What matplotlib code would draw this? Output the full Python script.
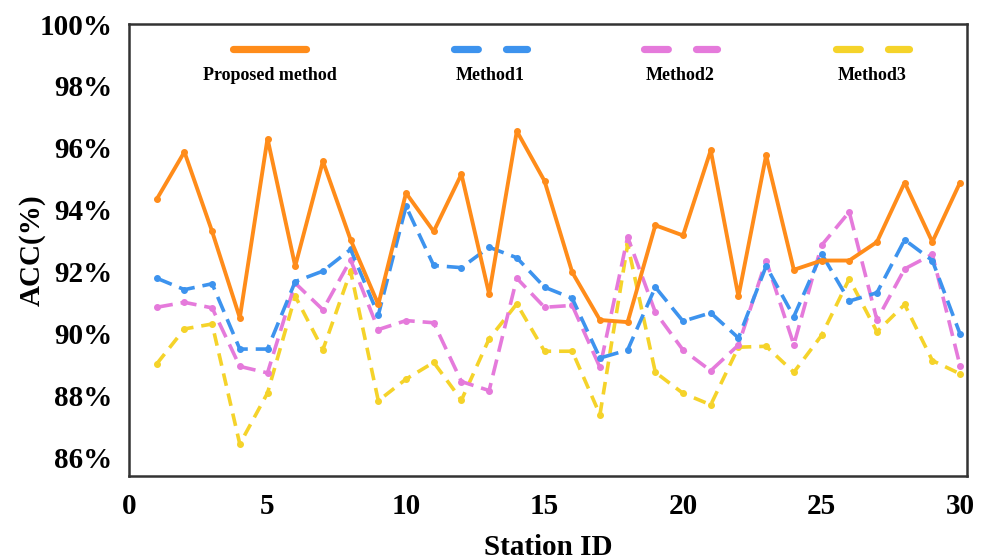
import numpy as np
import matplotlib.pyplot as plt
from matplotlib.ticker import FuncFormatter

plt.rcParams['font.family'] = ['Liberation Serif', 'DejaVu Serif']
plt.rcParams['font.weight'] = 'bold'

station = np.arange(1, 31)

proposed = [94.34, 95.87, 93.30, 90.51, 96.30, 92.18, 95.57, 93.03, 90.94, 94.54,
            93.30, 95.15, 91.28, 96.54, 94.93, 91.98, 90.44, 90.37, 93.50, 93.17,
            95.92, 91.20, 95.76, 92.06, 92.36, 92.36, 92.96, 94.88, 92.96, 94.88]
method1 = [91.79, 91.42, 91.61, 89.50, 89.50, 91.68, 92.02, 92.72, 90.60, 94.11,
           92.20, 92.13, 92.79, 92.45, 91.50, 91.14, 89.21, 89.47, 91.50, 90.40,
           90.67, 89.86, 92.18, 90.55, 92.58, 91.05, 91.32, 93.03, 92.36, 89.99]
method2 = [90.85, 91.01, 90.83, 88.94, 88.73, 91.63, 90.77, 92.38, 90.13, 90.42,
           90.35, 88.45, 88.16, 91.79, 90.85, 90.91, 88.91, 93.12, 90.69, 89.47,
           88.80, 89.63, 92.36, 89.64, 92.85, 93.93, 90.44, 92.09, 92.56, 88.96]
method3 = [89.02, 90.15, 90.31, 86.43, 88.08, 91.21, 89.48, 92.01, 87.83, 88.53,
           89.07, 87.85, 89.83, 90.96, 89.43, 89.43, 87.38, 92.88, 88.75, 88.07,
           87.70, 89.56, 89.59, 88.75, 89.94, 91.77, 90.06, 90.94, 89.13, 88.70]

names = ["Proposed method", "Method1", "Method2", "Method3"]
colors = ["#FF8C1A", "#3D93EE", "#E57ADB", "#F5D32A"]
styles = [dict(ls='-', lw=2.8), dict(ls=(0, (4.5, 2.2)), lw=2.6),
          dict(ls=(0, (4.5, 2.2)), lw=2.6), dict(ls=(0, (3.5, 2.2)), lw=2.6)]
series = [proposed, method1, method2, method3]

fig = plt.figure(figsize=(9.81, 5.59), dpi=100)
ax = fig.add_axes([0.1315, 0.1485, 0.8542, 0.8085])

for vals, c, st in zip(series[::-1], colors[::-1], styles[::-1]):
    ax.plot(station, vals, color=c, marker='o', markersize=4, **st)

ax.set_xlim(0, 30.25)
ax.set_ylim(85.4, 100)
ax.set_xticks(range(0, 31, 5))
ax.set_yticks(range(86, 101, 2))
ax.yaxis.set_major_formatter(FuncFormatter(lambda v, p: f"{v:.0f}%"))
ax.tick_params(length=0, labelsize=21, pad=12)
for lab in ax.get_xticklabels() + ax.get_yticklabels():
    lab.set_fontweight('bold')
for sp in ax.spines.values():
    sp.set_linewidth(1.8)
    sp.set_color('#333333')

ax.set_xlabel("Station ID", fontsize=21, fontweight='bold', labelpad=10)
ax.set_ylabel("ACC(%)", fontsize=21, fontweight='bold')
ax.yaxis.set_label_coords(-0.099, 0.5)

# legend drawn by hand: handle above the label
centers = [0.168, 0.431, 0.658, 0.887]
for name, c, st, cx in zip(names, colors, styles, centers):
    line_style = st['ls'] if st['ls'] == '-' else (0, (3.3, 3.9))
    ax.plot([cx - 0.0435, cx + 0.0435], [0.944, 0.944], transform=ax.transAxes,
            color=c, lw=5.2, ls=line_style, solid_capstyle='round',
            dash_capstyle='round', clip_on=False)
    ax.text(cx, 0.886, name, transform=ax.transAxes, ha='center', va='center',
            fontsize=13, fontweight='bold')

fig.savefig("out.png", dpi=100)
